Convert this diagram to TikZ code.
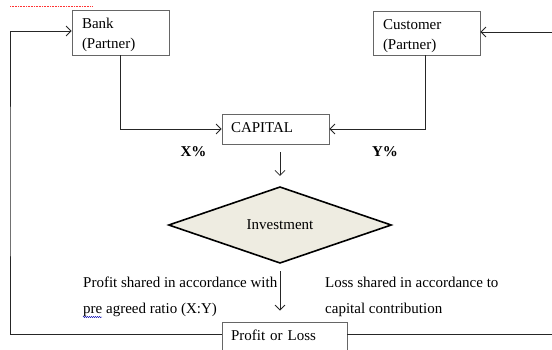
\documentclass[tikz,border=0pt]{standalone}
\usepackage{fontspec}
\setmainfont{Liberation Serif}
\usetikzlibrary{arrows.meta,shapes.geometric,decorations.pathmorphing}
\definecolor{tanbg}{HTML}{EEECE1}
\begin{document}
\begin{tikzpicture}[x=1pt,y=-1pt,
  font=\fontsize{15}{20}\selectfont,
  box/.style={draw=gray!80!black, line width=0.8pt, inner ysep=0pt, align=left},
  conn/.style={draw=black!85, line width=0.8pt},
  arr/.style={conn, -{Straight Barb[length=5pt,width=10pt,line width=0.8pt]}},
  dia/.style={diamond, draw=black, line width=1.6pt, fill=tanbg, inner sep=0pt,
              minimum width=223pt, minimum height=62pt},
  txt/.style={anchor=base west, inner sep=0pt},
  pct/.style={font=\fontsize{15}{20}\selectfont\bfseries, inner sep=0pt}]

\clip (0,0) rectangle (552,349);
\fill[white] (0,0) rectangle (552,349);

% nodes
\node[box, minimum width=97pt, minimum height=45pt, text width=77pt, inner xsep=10pt] (bank) at (120.5,32.5) {\rule{0pt}{16pt}Bank\\(Partner)};
\node[box, minimum width=107pt, minimum height=44pt, text width=87pt, inner xsep=10pt] (cust) at (426.5,33) {\rule{0pt}{16pt}Customer\\(Partner)};
\node[box, minimum width=107pt, minimum height=30pt, text width=89pt, inner xsep=9pt, text depth=3pt] (cap) at (275.5,129) {CAPITAL};
\node[dia] (inv) at (280,225) {Investment};
\node[box, minimum width=125pt, minimum height=30pt, text width=107pt, inner xsep=9pt, text height=11pt, text depth=5pt] (pl) at (284.5,337) {Profit or Loss};

\coordinate (lx) at (10,180);
\coordinate (re) at (552,32);
\coordinate (rb) at (552,334);

% connectors
\draw[arr] (bank.south) |- (cap.west);
\draw[arr] ([xshift=-1.5pt]cust.south) |- (cap.east);
\draw[arr, shorten <=8pt, shorten >=10pt] (cap.south -| inv.north) -- (inv.north);
\draw[arr, shorten <=7pt, shorten >=11pt] (inv.south) -- (inv.south |- pl.north);
\draw[arr] ([yshift=3pt]pl.west) -| (lx) |- ([yshift=1.5pt]bank.west);
\draw[arr] (re) -- (re -| cust.east);
\draw[conn] ([yshift=3pt]pl.east) -- (rb);

% texts
\node[txt] (p1) at (83,287) {Profit shared in accordance with};
\node[txt] (p2) at (83,313) {pre agreed ratio (X:Y)};
\node[txt] (l1) at (325,287) {Loss shared in accordance to};
\node[txt] (l2) at (325,313) {capital contribution};
\node[pct] (xp) at (193.5,152) {X\%};
\node[pct] (yp) at (385,152) {Y\%};

% editor marks
\draw[red!80, line width=0.6pt, dash pattern=on 0.8pt off 0.8pt] (10,6) -- (93,6);
\draw[blue!70!black, line width=0.4pt, decorate, decoration={snake, amplitude=0.6pt, segment length=2pt}] (83,317) -- (102,317);
\end{tikzpicture}
\end{document}
